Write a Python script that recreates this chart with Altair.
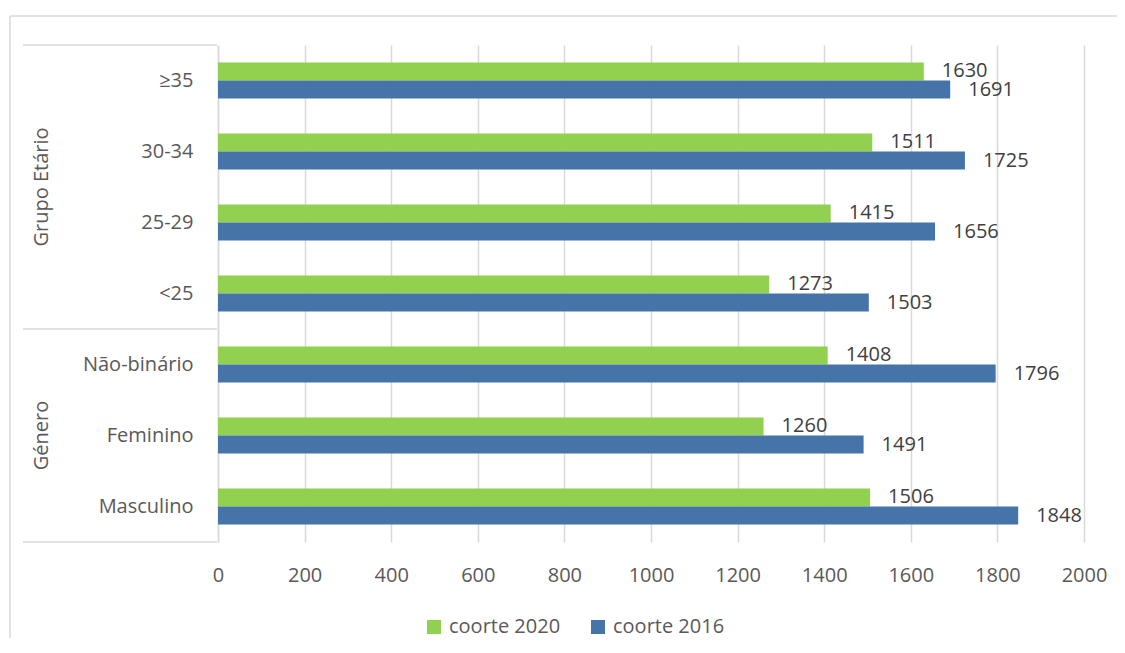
import altair as alt
import pandas as pd

categories = ["≥35", "30-34", "25-29", "<25", "Não-binário", "Feminino", "Masculino"]
series = ["coorte 2020", "coorte 2016"]
v2020 = [1630, 1511, 1415, 1273, 1408, 1260, 1506]
v2016 = [1691, 1725, 1656, 1503, 1796, 1491, 1848]
colors = ["#92D050", "#4674A9"]
x_ticks = [0, 200, 400, 600, 800, 1000, 1200, 1400, 1600, 1800, 2000]
groups = ["Grupo Etário", "Género"]

rows = []
for c, a, b in zip(categories, v2020, v2016):
    rows.append({"cat": c, "serie": series[0], "value": a})
    rows.append({"cat": c, "serie": series[1], "value": b})
df = pd.DataFrame(rows)

GRID = "#D9D9D9"
TXT = "#595959"
FS = 20

yscale = alt.Scale(domain=categories, paddingInner=0, paddingOuter=0)
xscale = alt.Scale(domain=[0, 2000], nice=False)
yoff = alt.YOffset("serie:N", scale=alt.Scale(domain=series, paddingInner=0, paddingOuter=0.97))

x_axis = alt.Axis(values=x_ticks, title=None, grid=True, gridColor=GRID, gridWidth=1.5,
                  domain=False, ticks=False, labelFontSize=FS, labelColor=TXT,
                  labelPadding=23, format="d", labelFlush=False)
y_axis = alt.Axis(title=None, labelFontSize=FS, labelColor=TXT, labelPadding=25,
                  ticks=False, domainColor=GRID, domainWidth=1.5, grid=False)

base = alt.Chart(df)

bars = base.mark_bar().encode(
    x=alt.X("value:Q", scale=xscale, axis=x_axis),
    y=alt.Y("cat:N", scale=yscale, axis=y_axis),
    yOffset=yoff,
    color=alt.Color("serie:N", scale=alt.Scale(domain=series, range=colors),
                    legend=alt.Legend(title=None, orient="none", legendX=206, legendY=572,
                                      direction="horizontal", symbolType="square",
                                      symbolSize=196, symbolStrokeWidth=0,
                                      labelFontSize=FS, labelColor=TXT, columnPadding=27,
                                      labelOffset=5, padding=0)),
)

labels = base.mark_text(align="left", baseline="middle", dx=18, fontSize=FS, color="#404040").encode(
    x=alt.X("value:Q", scale=xscale, axis=x_axis),
    y=alt.Y("cat:N", scale=yscale, axis=y_axis),
    yOffset=yoff,
    text=alt.Text("value:Q", format="d"),
)

one = pd.DataFrame({"a": [0]})

grp1 = alt.Chart(pd.DataFrame({"t": [groups[0]]})).mark_text(
    angle=270, fontSize=FS, color=TXT, align="center", baseline="middle").encode(
    x=alt.value(-176), y=alt.YDatum("30-34", bandPosition=1, axis=y_axis), text="t:N")
grp2 = alt.Chart(pd.DataFrame({"t": [groups[1]]})).mark_text(
    angle=270, fontSize=FS, color=TXT, align="center", baseline="middle").encode(
    x=alt.value(-176), y=alt.YDatum("Feminino", bandPosition=0.5, axis=y_axis), text="t:N")

sep_top = alt.Chart(one).mark_rule(color=GRID, strokeWidth=1.5).encode(
    x=alt.value(-195), x2=alt.value(-1), y=alt.YDatum("≥35", bandPosition=0, axis=y_axis))
sep_mid = alt.Chart(one).mark_rule(color=GRID, strokeWidth=1.5).encode(
    x=alt.value(-195), x2=alt.value(-1), y=alt.YDatum("<25", bandPosition=1, axis=y_axis))
sep_bot = alt.Chart(one).mark_rule(color=GRID, strokeWidth=1.5).encode(
    x=alt.value(-195), x2=alt.value(-1), y=alt.YDatum("Masculino", bandPosition=1, axis=y_axis))

frame_left = alt.Chart(one).mark_rule(color=GRID, strokeWidth=1.5).encode(
    x=alt.value(-208), y=alt.value(-29), y2=alt.value(700))
frame_top = alt.Chart(one).mark_rule(color=GRID, strokeWidth=1.5).encode(
    x=alt.value(-208), x2=alt.value(1000), y=alt.value(-29))

chart = alt.layer(
    bars, labels, sep_top, sep_mid, sep_bot, grp1, grp2, frame_left, frame_top
).properties(
    width=866, height=497,
    padding={"left": 210, "top": 37, "right": 33, "bottom": 96},
    autosize=alt.AutoSizeParams(type="none"),
).configure(font="Open Sans").configure_view(strokeWidth=0)

chart.save("out.html", embed_options={"renderer": "svg", "actions": False})
